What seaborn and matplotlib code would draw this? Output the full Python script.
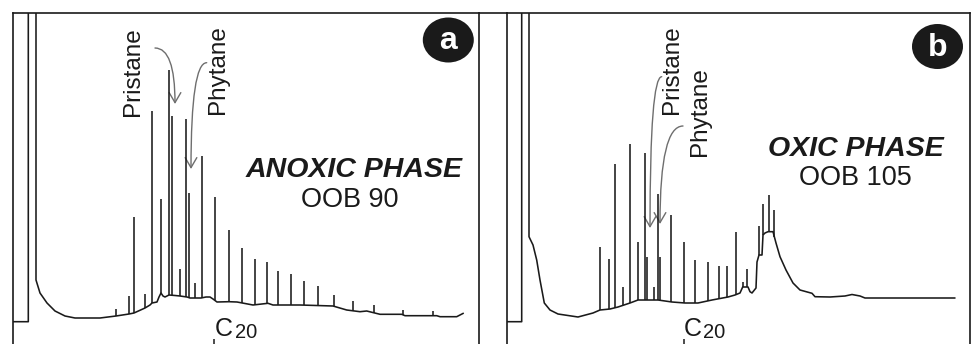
import numpy as np
import pandas as pd
import matplotlib
matplotlib.use("Agg")
import matplotlib.pyplot as plt
import seaborn as sns
from matplotlib.patches import Ellipse, FancyArrowPatch
from matplotlib.lines import Line2D

sns.set_style("white")
plt.rcParams['font.family'] = ['Liberation Sans', 'DejaVu Sans']

# ---------------- data (retention a.u., detector response a.u.) ----------------
# Panel a : anoxic phase, OOB 90
solvent_a_x = [12.5, 28.3, 28.3, 36.0, 36.0]
solvent_a_y = [22.3, 22.3, 400.0, 400.0, 64.0]
base_a_x = [40, 47, 55, 65, 75, 100, 116, 129, 134, 145, 150, 152, 157, 159, 161, 163,
            165, 169, 175, 180, 187, 190, 195, 201, 206, 210, 213, 217, 229, 237, 253,
            268, 273, 300, 333, 346.7, 360, 366.7, 380, 401.7, 405, 436.7, 440, 456.7, 463.3]
base_a_y = [51, 41, 33, 28, 26, 26, 28, 30, 31, 36, 39, 41, 42, 47, 51, 48,
            47, 49, 48.5, 48, 47, 46, 46, 46, 47, 47, 45, 42, 42.3, 42, 39,
            40.7, 39, 39, 38, 34, 32.3, 33, 29.7, 29.7, 28.3, 28.3, 27.3, 27.3, 30.7]
peak_a_x = [115.7, 128.7, 134.0, 145.0, 152.0, 161.2, 169.2, 171.5, 179.8, 186.3, 188.5,
            195.0, 201.5, 214.6, 229.0, 242.0, 254.7, 267.3, 278.3, 291.0, 303.7, 317.7,
            334.0, 353.3, 373.7, 402.7, 433.3]
peak_a_top = [35, 48, 127, 50, 233, 145, 274, 228, 75.5, 225, 151,
              61, 188, 147.3, 114, 95.7, 85, 82, 73.3, 70, 63.3, 58,
              49.3, 42.7, 39, 34.3, 32.7]

# Panel b : oxic phase, OOB 105
solvent_b_x = [507.5, 521.7, 521.7, 529.0, 529.0]
solvent_b_y = [22.3, 22.3, 400.0, 400.0, 107.3]
base_b_x = [533, 536.7, 540, 544.3, 550, 558, 578, 593, 600, 610, 618, 630, 638, 645,
            658, 672, 685, 698, 712, 728, 735, 740, 742.7, 748, 750, 752, 756, 757, 759,
            762, 763, 765, 768, 773, 776, 780, 786, 793, 800, 812, 815, 830, 845, 852,
            860, 865, 900, 955]
base_b_y = [99, 84, 64, 41, 34, 30, 27, 31, 34, 35, 37, 41, 44, 44,
            44, 42, 41, 41, 44, 47, 49, 51, 57, 57, 52.3, 51, 56, 82, 89,
            89, 109, 111, 112.3, 112.3, 101, 87.3, 74, 61, 54, 50.7, 47.3, 47, 48, 49.5,
            48, 46, 46, 46]
peak_b_x = [599.5, 609.0, 615.0, 622.7, 629.7, 637.7, 645.0, 647.0, 653.7, 657.7, 660.3,
            670.7, 684.0, 694.7, 707.7, 718.7, 727.3, 735.7, 742.7, 747.3, 759.3, 763.3,
            769.3, 774.3]
peak_b_top = [97, 85, 180, 57, 200, 102, 191, 87, 57, 150, 87,
              129, 102, 84, 82, 78, 78, 112, 62.3, 75, 118, 140,
              149, 134]

labels = ["a", "b"]
phases = ["ANOXIC PHASE", "OXIC PHASE"]
samples = ["OOB 90", "OOB 105"]
compounds = ["Pristane", "Phytane"]
marker_label = ("C", "20")

# ---------------- figure ----------------
W, H = 973, 344
fig = plt.figure(figsize=(W / 100, H / 100), dpi=100)
ink = "#1a1a1a"
grey = "#6e6e6e"
top_px = 13.3

panels = [
    dict(left=12.5, right=478.5, sx=solvent_a_x, sy=solvent_a_y, bx=base_a_x, by=base_a_y,
         px=peak_a_x, pt=peak_a_top,
         pri_txt=(133, 272), phy_txt=(218, 274),
         pri_arrow=((155, 296), (175, 240)), phy_arrow=((206.7, 281.3), (191, 175)),
         phase=(353.7, 167.3), sample=(349.7, 137.3), badge=(448.3, 304), c20=(215, 8), tick=214.3),
    dict(left=507.3, right=970.0, sx=solvent_b_x, sy=solvent_b_y, bx=base_b_x, by=base_b_y,
         px=peak_b_x, pt=peak_b_top,
         pri_txt=(672, 274), phy_txt=(700, 232),
         pri_arrow=((661.7, 267.3), (650, 116)), phy_arrow=((683, 218), (660, 120)),
         phase=(856, 188), sample=(855, 159), badge=(937.5, 297.5), c20=(683.3, 8), tick=684.0),
]

for i, p in enumerate(panels):
    ax = fig.add_axes([p["left"] / W, 0, (p["right"] - p["left"]) / W, (H - top_px) / H])
    ax.set_xlim(p["left"], p["right"])
    ax.set_ylim(0, H - top_px)
    ax.set_xticks([])
    ax.set_yticks([])
    for s in ["left", "right", "top"]:
        ax.spines[s].set_color(ink)
        ax.spines[s].set_linewidth(1.2)
    ax.spines["bottom"].set_visible(False)

    tx = np.concatenate([p["sx"], p["bx"]])
    ty = np.concatenate([p["sy"], p["by"]])
    df = pd.DataFrame({"rt": tx, "signal": ty})
    sns.lineplot(data=df, x="rt", y="signal", sort=False, estimator=None,
                 color=ink, lw=1.15, ax=ax, legend=False)
    foot = np.interp(p["px"], p["bx"], p["by"])
    ax.vlines(p["px"], foot, p["pt"], color=ink, lw=1.15)
    ax.set_xlabel("")
    ax.set_ylabel("")

    # compound labels
    ax.text(*p["pri_txt"], compounds[0], rotation=90, ha="center", va="center",
            fontsize=17.5, color=ink)
    ax.text(*p["phy_txt"], compounds[1], rotation=90, ha="center", va="center",
            fontsize=17.5, color=ink)
    for (a0, a1) in (p["pri_arrow"], p["phy_arrow"]):
        arr = FancyArrowPatch(a0, a1, connectionstyle="angle3,angleA=0,angleB=90",
                              arrowstyle="->,head_length=0.6,head_width=0.35",
                              color=grey, lw=1.0, shrinkA=0, shrinkB=0,
                              mutation_scale=12)
        ax.add_patch(arr)

    ax.text(*p["phase"], phases[i], ha="center", va="baseline", fontsize=20.5,
            fontweight="bold", fontstyle="italic", color=ink)
    ax.text(*p["sample"], samples[i], ha="center", va="baseline", fontsize=19.5, color=ink)

    bx, byy = p["badge"]
    ax.add_patch(Ellipse((bx, byy), 51, 45, facecolor=ink, edgecolor="none"))
    ax.text(bx, byy - 1, labels[i], ha="center", va="center", fontsize=23,
            fontweight="bold", color="white")

    cx, cy = p["c20"]
    ax.text(cx, cy, marker_label[0], ha="left", va="baseline", fontsize=18, color=ink)
    ax.text(cx + 19.5, cy - 2, marker_label[1], ha="left", va="baseline", fontsize=14.5, color=ink)
    ax.vlines([p["tick"]], 0, 5, color=ink, lw=1.1)

fig.add_artist(Line2D([478.5 / W, 507.3 / W], [1 - top_px / H] * 2, transform=fig.transFigure,
                      color=ink, lw=1.2))

fig.savefig("out.png", dpi=100)
